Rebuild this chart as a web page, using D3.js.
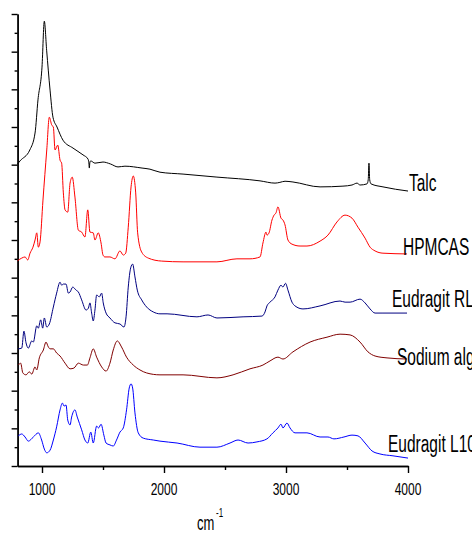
<!DOCTYPE html>
<html>
<head>
<meta charset="utf-8">
<script src="https://cdn.jsdelivr.net/npm/d3@7"></script>
<style>
  body { margin: 0; background: #fff; }
  svg { display: block; }
  text { font-family: "Liberation Sans", Arial, sans-serif; fill: #000; }
</style>
</head>
<body>
<svg id="mainsvg" width="472" height="533"></svg>
<script>
const WIDTH = 472, HEIGHT = 533

// spectra, [wavenumber cm-1, offset transmittance (a.u.)]
const talc = [
  [800, 8.02], [820, 8.10], [900, 8.39], [943, 8.84], [967, 9.72], [1000, 10.59], [1019, 11.81],
  [1038, 11.04], [1066, 9.98], [1090, 9.26], [1123, 9.00], [1172, 8.65], [1254, 8.44], [1336, 8.26],
  [1377, 8.15], [1384, 8.05], [1388, 7.91], [1392, 8.05], [1399, 8.10], [1434, 8.04], [1500, 8.07],
  [1560, 8.02], [1623, 7.94], [1680, 7.96], [1820, 7.91], [1885, 7.88], [1967, 7.80], [2156, 7.75],
  [2434, 7.67], [2787, 7.57], [2910, 7.51], [2950, 7.53], [2992, 7.56], [3057, 7.54], [3279, 7.41],
  [3467, 7.43], [3541, 7.46], [3582, 7.51], [3607, 7.46], [3664, 7.49], [3674, 7.60], [3680, 8.04],
  [3686, 7.60], [3697, 7.49], [3795, 7.41], [4000, 7.30]
]

const hpmcas = [
  [800, 5.45], [834, 5.52], [861, 5.55], [883, 5.47], [902, 5.65], [926, 5.81], [943, 6.00], [957, 6.19],
  [970, 5.81], [984, 5.95], [1008, 7.06], [1039, 8.39], [1060, 9.26], [1080, 9.05], [1093, 9.00],
  [1107, 8.39], [1129, 8.52], [1148, 8.12], [1161, 8.04], [1175, 7.25], [1189, 6.80], [1211, 6.74],
  [1230, 7.51], [1248, 7.67], [1270, 7.14], [1298, 6.26], [1325, 6.21], [1352, 6.08], [1375, 6.80],
  [1393, 6.21], [1420, 6.19], [1434, 6.00], [1461, 6.19], [1484, 5.92], [1500, 5.60], [1516, 5.55],
  [1557, 5.55], [1598, 5.50], [1639, 5.71], [1666, 5.60], [1686, 5.65], [1707, 6.34], [1730, 7.41],
  [1748, 7.70], [1768, 7.25], [1784, 6.19], [1817, 5.68], [1871, 5.52], [1981, 5.44], [2156, 5.42],
  [2434, 5.42], [2598, 5.50], [2705, 5.50], [2787, 5.55], [2811, 5.92], [2836, 6.21], [2844, 6.13],
  [2861, 6.19], [2885, 6.53], [2902, 6.66], [2918, 6.72], [2934, 6.88], [2959, 6.58], [2975, 6.53],
  [2992, 6.40], [3016, 6.00], [3049, 5.89], [3115, 5.84], [3172, 5.84], [3279, 5.97], [3344, 6.13],
  [3418, 6.48], [3484, 6.66], [3541, 6.58], [3590, 6.34], [3648, 6.05], [3689, 5.81], [3730, 5.71],
  [3795, 5.65], [3992, 5.63]
]

const eudragitRL = [
  [806, 3.11], [834, 3.13], [852, 3.58], [869, 3.27], [888, 3.13], [916, 3.32], [929, 3.29], [957, 3.72],
  [970, 3.66], [989, 3.88], [1006, 3.66], [1019, 3.93], [1039, 3.69], [1060, 3.77], [1093, 4.22],
  [1120, 4.59], [1148, 4.88], [1161, 4.80], [1175, 4.83], [1197, 4.83], [1216, 4.59], [1230, 4.62],
  [1252, 4.75], [1279, 4.67], [1298, 4.62], [1325, 4.41], [1361, 4.14], [1380, 4.19], [1393, 4.33],
  [1407, 4.06], [1420, 3.85], [1434, 4.14], [1448, 4.54], [1470, 4.49], [1489, 4.59], [1502, 4.33],
  [1525, 4.06], [1557, 3.93], [1598, 3.80], [1639, 3.77], [1672, 3.69], [1689, 3.96], [1707, 4.75],
  [1727, 5.26], [1743, 5.36], [1762, 5.02], [1781, 4.67], [1817, 4.41], [1858, 4.22], [1912, 4.09],
  [1967, 4.04], [2025, 4.04], [2270, 3.96], [2361, 4.01], [2434, 3.93], [2648, 3.96], [2803, 3.98],
  [2828, 4.09], [2844, 4.25], [2869, 4.35], [2910, 4.49], [2934, 4.67], [2959, 4.80], [2975, 4.75],
  [2996, 4.85], [3016, 4.67], [3049, 4.35], [3074, 4.25], [3139, 4.17], [3279, 4.25], [3443, 4.38],
  [3484, 4.35], [3525, 4.35], [3607, 4.43], [3648, 4.33], [3689, 4.17], [3730, 4.06], [3795, 4.06],
  [3992, 4.06]
]

const sodiumAlginate = [
  [806, 2.68], [825, 2.73], [843, 2.47], [869, 2.42], [896, 2.50], [916, 2.44], [943, 2.63], [957, 2.55],
  [978, 2.87], [1011, 3.08], [1033, 3.29], [1052, 3.16], [1066, 3.11], [1093, 3.11], [1120, 3.00],
  [1148, 2.92], [1189, 2.73], [1230, 2.58], [1262, 2.60], [1298, 2.73], [1339, 2.68], [1372, 2.68],
  [1393, 2.87], [1420, 3.11], [1448, 2.89], [1489, 2.63], [1525, 2.52], [1557, 2.73], [1584, 3.08],
  [1617, 3.32], [1652, 3.16], [1693, 2.89], [1748, 2.68], [1803, 2.55], [1858, 2.47], [1967, 2.42],
  [2156, 2.42], [2434, 2.34], [2566, 2.42], [2705, 2.58], [2811, 2.68], [2869, 2.79], [2934, 2.89],
  [2975, 2.84], [3057, 3.03], [3197, 3.29], [3336, 3.42], [3443, 3.50], [3525, 3.48], [3607, 3.29],
  [3672, 3.03], [3730, 2.92], [3828, 2.87], [3992, 2.84]
]

const eudragitL100 = [
  [806, 0.80], [834, 0.85], [861, 0.77], [888, 0.66], [929, 0.77], [970, 0.88], [997, 0.69], [1019, 0.45],
  [1039, 0.35], [1066, 0.42], [1093, 0.69], [1120, 1.04], [1148, 1.49], [1167, 1.67], [1181, 1.59],
  [1197, 1.62], [1211, 1.22], [1230, 1.09], [1243, 1.30], [1270, 1.49], [1289, 1.30], [1325, 0.96],
  [1352, 0.69], [1375, 0.61], [1400, 0.90], [1420, 0.61], [1448, 1.06], [1464, 1.01], [1484, 1.11],
  [1507, 0.82], [1525, 0.61], [1557, 0.56], [1584, 0.53], [1611, 0.69], [1639, 0.90], [1666, 1.01],
  [1693, 1.49], [1715, 2.07], [1730, 2.18], [1743, 2.07], [1762, 1.41], [1789, 0.88], [1830, 0.74],
  [1912, 0.69], [1967, 0.66], [2107, 0.61], [2295, 0.50], [2434, 0.50], [2541, 0.61], [2607, 0.69],
  [2689, 0.61], [2762, 0.64], [2844, 0.72], [2893, 0.88], [2934, 1.01], [2959, 1.11], [2975, 1.01],
  [3008, 1.14], [3033, 1.01], [3074, 0.88], [3172, 0.88], [3279, 0.77], [3344, 0.77], [3393, 0.72],
  [3475, 0.77], [3541, 0.82], [3590, 0.80], [3648, 0.61], [3705, 0.40], [3770, 0.32], [3877, 0.27],
  [4000, 0.21]
]

const seriesNames = ["Talc", "HPMCAS", "Eudragit RL", "Sodium alginate", "Eudragit L100"]
const seriesColors = ["#000000", "#ff0000", "#000080", "#800000", "#0000ff"]
const seriesData = [talc, hpmcas, eudragitRL, sodiumAlginate, eudragitL100]
const xMajor = [1000, 2000, 3000, 4000]
const xMinor = [1500, 2500, 3500]

const x = d3.scaleLinear().domain([800, 4000]).range([17.6, 408])
const y = d3.scaleLinear().domain([0, 12]).range([466, 14])

let svg = d3.select("#mainsvg")

function renderAxes () {
    let axisGroup = svg.append("g").attr("id", "axes")

    let yMajor = d3.axisLeft(y).tickValues(d3.range(0, 13)).tickSize(6).tickSizeOuter(0).tickFormat("")
    let yMinor = d3.axisLeft(y).tickValues(d3.range(0.5, 12, 1)).tickSize(3).tickSizeOuter(0).tickFormat("")
    axisGroup.append("g").attr("transform", `translate(${x(800)},0)`).call(yMajor)
    axisGroup.append("g").attr("transform", `translate(${x(800)},0)`).call(yMinor)

    let xMaj = d3.axisBottom(x).tickValues(xMajor).tickSize(7).tickSizeOuter(0).tickFormat("")
    let xMin = d3.axisBottom(x).tickValues(xMinor).tickSize(4).tickSizeOuter(0).tickFormat("")
    axisGroup.append("g").attr("transform", `translate(0,${y(0)})`).call(xMaj)
    axisGroup.append("g").attr("transform", `translate(0,${y(0)})`).call(xMin)

    axisGroup.selectAll("path, line").attr("stroke", "#000").attr("stroke-width", 1.4)

    // tick labels (the figure is stretched vertically)
    axisGroup.selectAll(".xlab")
    .data(xMajor)
    .enter()
    .append("text")
    .attr("class", "xlab")
    .attr("transform", d => `translate(${x(d)},495) scale(1,1.42)`)
    .attr("text-anchor", "middle")
    .attr("font-size", 12)
    .text(d => d)

    let title = axisGroup.append("g").attr("transform", "translate(197,530) scale(1,1.6)")
    title.append("text").attr("font-size", 13).text("cm")
    title.append("text").attr("x", 19).attr("y", -8).attr("font-size", 8).text("-1")
}

function renderSpectra () {
    let line = d3.line()
    .x(d => x(d[0]))
    .y(d => y(d[1]))
    .curve(d3.curveMonotoneX)

    let specGroup = svg.append("g").attr("id", "spectra")
    specGroup.selectAll("path")
    .data(seriesData)
    .enter()
    .append("path")
    .attr("fill", "none")
    .attr("stroke", (d, i) => seriesColors[i])
    .attr("stroke-width", 1)
    .attr("d", line)
}

function renderLabels () {
    // label anchor: left x, baseline y
    const pos = [[409, 191], [403, 255], [392, 307], [397, 365], [388, 452]]
    svg.append("g").selectAll("text")
    .data(seriesNames)
    .enter()
    .append("text")
    .attr("transform", (d, i) => `translate(${pos[i][0]},${pos[i][1]}) scale(1,1.5)`)
    .attr("font-size", 15.5)
    .text(d => d)
}

renderAxes()
renderSpectra()
renderLabels()
</script>
</body>
</html>
